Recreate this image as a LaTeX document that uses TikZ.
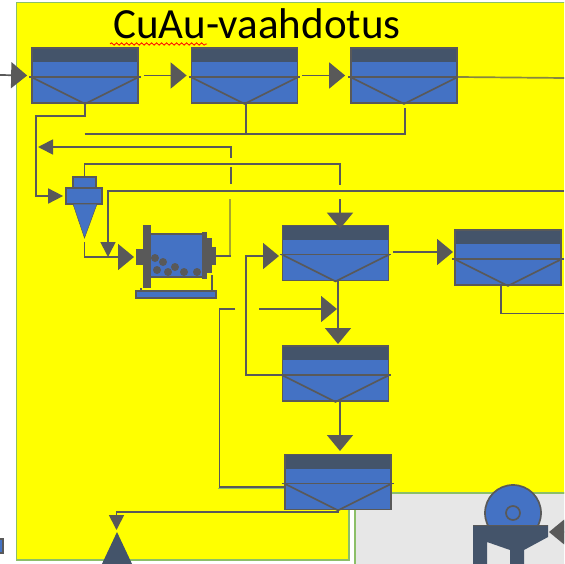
\documentclass[tikz,border=0pt]{standalone}
\usepackage{fontspec}
\setmainfont{Carlito}
\usetikzlibrary{arrows.meta}
\usetikzlibrary{decorations.pathmorphing}
\definecolor{linec}{HTML}{595959}
\definecolor{slate}{HTML}{44546A}
\definecolor{cellblue}{HTML}{4472C4}
\definecolor{panelgreen}{HTML}{8CBF68}
\definecolor{panelgrey}{HTML}{E7E7E7}
\definecolor{panelyellow}{RGB}{255,255,0}
\definecolor{olive}{HTML}{A6A62E}

\begin{document}
\begin{tikzpicture}
		[x=1pt, y=-1pt, node distance={159.5pt}, line width=1.7pt, linec,
		main/.style = {draw=linec, fill=cellblue, inner sep=0pt},
		cell/.style = {main, minimum width=106pt, minimum height=55pt,
			path picture={\fill[slate] (path picture bounding box.north west) rectangle ([yshift=-14pt]path picture bounding box.north east);}},
		big/.style = {-{Triangle[length=16pt,width=26pt]}},
		small/.style = {-{Triangle[length=15pt,width=15pt]}},
		panel/.style = {draw=panelgreen, line width=1.5pt}]
	\useasboundingbox (0,0) rectangle (564,564);
	\clip (0,0) rectangle (564,564);
	% panels
	\draw[panel, fill=panelgrey] (355,566) -- (355,493) -- (566,493) -- (566,566) -- cycle;
	\draw[panel, fill=panelyellow] (566,2.5) -- (16.5,2.5) -- (16.5,560) -- (349,560) -- (349,493) -- (566,493);
	\draw[panel] (218,488.5) -- (285,488.5);
	\node[anchor=base west, black, font=\fontsize{43}{43}\selectfont] (title) at (109,38.5) {CuAu-vaahdotus};
	\draw[red, line width=.8pt, decorate, decoration={snake, amplitude=1.2pt, segment length=5pt}] (110,44) -- (207,44);
	% cells
	\node[cell] (1) at (85,75.5) {};
	\node[cell] (2) [right of = 1] {};
	\node[cell] (3) [right of = 2] {};
	\node[cell] (4) at (335.5,253) {};
	\node[cell] (5) at (508,257.5) {};
	\node[cell] (6) [below of = 4, node distance={120.5pt}] {};
	\node[cell] (7) at (338,482) {};
	\foreach \n in {1,...,7} {
		\draw ([xshift=-2pt,yshift=-1.5pt]\n.west) -- ([xshift=2pt,yshift=-1.5pt]\n.east);
		\draw ([yshift=-1.5pt]\n.west) -- (\n.south) -- ([yshift=-1.5pt]\n.east);
	}
	% cyclone
	\node[main, minimum width=23pt, minimum height=11pt] (top) at (84.5,182.5) {};
	\node[main, minimum width=36pt, minimum height=16pt] (cyc) at (84,196) {};
	\draw[fill=cellblue, line width=.5pt] (73,204) -- (97,204) -- (84.5,238) -- cycle;
	% mill
	\draw (141,288) -- (141,291) (212,275) -- (212,291);
	\node[main, minimum width=53pt, minimum height=43pt] (mill) at (176.5,255.5) {};
	\node[main, minimum width=80pt, minimum height=7pt] (plate) at (176,294.5) {};
	\fill (143,225) rectangle (151,288);
	\fill (136,249) rectangle (143,265);
	\fill (202,232) rectangle (207,279);
	\fill (207,238) rectangle (212,273);
	\fill (212,247) rectangle (216,265);
	\foreach \x/\y in {155/258, 163/262, 157/270, 168/272, 175/267, 184/272, 197/272}
		\fill (\x,\y) circle (4);
	% crusher
	\node[main, circle, minimum size=56pt] (drum) at (513,513) {};
	\node[draw=linec, circle, minimum size=14pt, inner sep=0pt] (hub) at (513,513) {};
	\fill[slate] (473,525) -- (548,525) -- (548,537) -- (524,550) -- (524,566) -- (510,566) -- (510,550) -- (487,542) -- (487,566) -- (473,566) -- cycle;
	\draw[draw=linec, line width=.8pt] (473,525) -- (548,525);
	\fill[slate] (101,566) -- (117,532) -- (133,566) -- cycle;
	\node[main, anchor=north east, minimum width=6pt, minimum height=14pt] (stub) at (4,538) {};
	% free ends
	\coordinate (in) at (0,75);
	\coordinate (out3) at (564,78);
	\coordinate (out5) at (564,313.5);
	\coordinate (feed) at (564,191);
	\coordinate (wash) at (84.5,134);
	\coordinate (gap1) at (340,185);
	\coordinate (gap2) at (340,199);
	\coordinate (ret1) at (231,158);
	\coordinate (ret2) at (231,167);
	\coordinate (ret3) at (231,184);
	\coordinate (ret4) at (230,199);
	\coordinate (ret5) at (216,256);
	\coordinate (side1) at (259,309);
	\coordinate (side2) at (235,309);
	\coordinate (side3) at (337,309);
	\coordinate (bin) at (564,532);
	\coordinate (in4) at (279,256);
	\coordinate (from4) at (393,252);
	\coordinate (to5) at (453,252);
	\coordinate (to6) at (283,375);
	\coordinate (to7) at (285,487);
	% connectors
	\draw[big] (in) -- ([xshift=-4pt]1.west);
	\draw[big] ([xshift=5pt]1.east) -- ([xshift=-4pt]2.west);
	\draw[big] ([xshift=4pt]2.east) -- ([xshift=-5pt]3.west);
	\draw[olive!60!linec] ([yshift=-1.5pt]3.east) -- (out3);
	\draw (wash) -| ([xshift=1pt,yshift=-4pt]3.south);
	\draw ([xshift=1.5pt]2.south) -- ([xshift=1.5pt]2.south |- wash);
	\draw[small] (1.south) |- (36,116) |- ([xshift=-2pt]cyc.west);
	\draw[small] (ret1) |- (38,147);
	\draw (ret2) -- (ret3);
	\draw[olive, line width=2pt] (ret4) -- (230,256);
	\draw (ret5) -- (231,256);
	\draw (top.north) |- (gap1 |- 0,164) -- (gap1);
	\draw[big] (gap2) -- ([yshift=-4pt]4.north -| gap2);
	\draw[small] (feed) -- (108,191) -- (108,257);
	\draw[big] (84.5,242) |- ([xshift=-2pt]136,257);
	\draw[big] (to6) -| (246,256) -- (in4);
	\draw[big] (from4) -- (to5);
	\draw (501,285) |- (out5);
	\draw[big] (338,281) -- (338,344);
	\draw[big] (side1) -- (side3);
	\draw (side2) -- (219.5,309) |- (to7);
	\draw[big] (340,401) -- (340,451);
	\draw (338,509) |- (116.5,512) -- (116.5,516);
	\draw[small] (116.5,515) -- (116.5,530);
	\draw[big] (bin) -- +(-15,0);
\end{tikzpicture}
\end{document}
